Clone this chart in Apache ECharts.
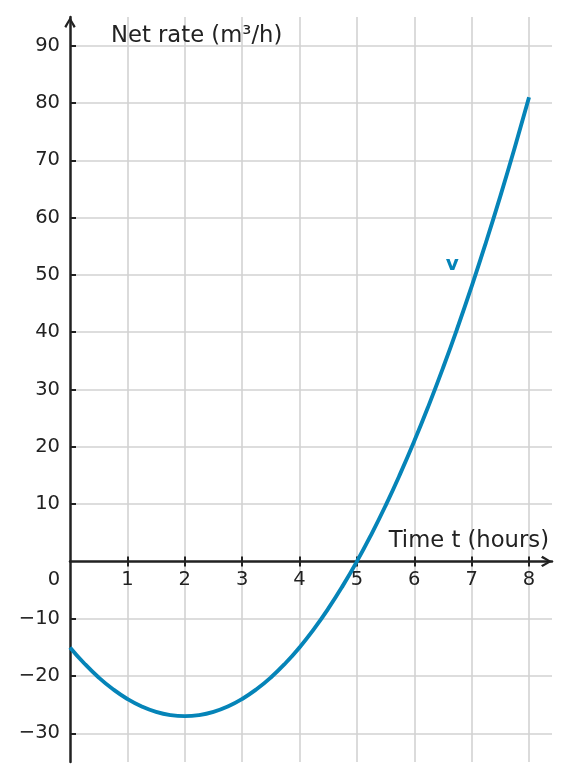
<!DOCTYPE html>
<html><head><meta charset="utf-8">
<script src="https://cdn.jsdelivr.net/npm/echarts@6/dist/echarts.min.js"></script>
<style>html,body{margin:0;padding:0;background:#fff}#c{width:576px;height:780px}</style>
</head><body><div id="c"></div>
<script>
// ---- data ----
const tValues = [0, 0.25, 0.5, 0.75, 1, 1.25, 1.5, 1.75, 2, 2.25, 2.5, 2.75, 3, 3.25, 3.5, 3.75, 4,
                 4.25, 4.5, 4.75, 5, 5.25, 5.5, 5.75, 6, 6.25, 6.5, 6.75, 7, 7.25, 7.5, 7.75, 8];
const vValues = [-15, -17.81, -20.25, -22.31, -24, -25.31, -26.25, -26.81, -27, -26.81, -26.25, -25.31, -24,
                 -22.31, -20.25, -17.81, -15, -11.81, -8.25, -4.31, 0, 4.69, 9.75, 15.19, 21, 27.19, 33.75,
                 40.69, 48, 55.69, 63.75, 72.19, 81];
const xTickLabels = [0, 1, 2, 3, 4, 5, 6, 7, 8];
const yTickLabels = [-30, -20, -10, 10, 20, 30, 40, 50, 60, 70, 80, 90];
const xTitle = 'Time t (hours)';
const yTitle = 'Net rate (m\u00B3/h)';
const seriesName = 'v';
const seriesLabelAt = [6.66, 51.7];

// ---- chart ----
const INK = '#222222';
const BLUE = '#0584b8';
const GRIDC = '#d2d2d2';
const FONT = 'DejaVu Sans';
const chevron = 'path://M0,10 L6,0 L12,10 L10,11.6 L6,4.2 L2,11.6 Z';

const W = 576, H = 780;
const G = {left: 70, right: 24, top: 17, bottom: 18};
const X_MIN = 0, X_MAX = 8.4, Y_MIN = -35, Y_MAX = 95;
const gridH = H - G.top - G.bottom;
const zeroFromTop = gridH * Y_MAX / (Y_MAX - Y_MIN);      // y = 0 position inside grid
const zeroFromBottom = gridH - zeroFromTop;

const points = tValues.map((t, i) => [t, vValues[i]]);
const xTickPos = xTickLabels.filter(v => v !== 0);

const chart = echarts.init(document.getElementById('c'), null, {renderer: 'canvas'});
chart.setOption({
  animation: false,
  backgroundColor: '#ffffff',
  title: [
    {text: yTitle, left: 111, top: 25, padding: 0,
     textStyle: {fontFamily: FONT, fontSize: 22.7, fontWeight: 'normal', color: INK}},
    {text: xTitle, right: 27, top: 530, padding: 0,
     textStyle: {fontFamily: FONT, fontSize: 22.7, fontWeight: 'normal', color: INK}}
  ],
  grid: {left: G.left, right: G.right, top: G.top, bottom: G.bottom, containLabel: false, outerBoundsMode: 'none'},
  xAxis: [{
    type: 'value', min: X_MIN, max: X_MAX, interval: 1, position: 'bottom', offset: -zeroFromBottom,
    axisLine: {show: true, onZero: false, lineStyle: {color: INK, width: 2.5},
      symbol: ['none', chevron], symbolSize: [14, 11], symbolOffset: [0, -5.5]},
    axisTick: {show: true, length: 5, customValues: xTickPos, lineStyle: {color: INK, width: 2}},
    axisLabel: {show: true, customValues: xTickLabels, margin: 9, fontFamily: FONT, fontSize: 19.5, color: INK,
      formatter: v => v === 0 ? '{z|0}' : String(v),
      rich: {z: {fontFamily: FONT, fontSize: 19.5, color: INK, padding: [0, 32, 0, 0]}}},
    splitLine: {show: true, showMinLine: true, showMaxLine: true, lineStyle: {color: GRIDC, width: 1.6}}
  }, {
    type: 'value', min: X_MIN, max: X_MAX, interval: 1, position: 'top', offset: -zeroFromTop,
    axisLine: {show: false, onZero: false},
    axisTick: {show: true, length: 5, customValues: xTickPos, lineStyle: {color: INK, width: 2}},
    axisLabel: {show: false},
    splitLine: {show: false}
  }],
  yAxis: [{
    type: 'value', min: Y_MIN, max: Y_MAX, splitNumber: 13, position: 'left',
    axisLine: {show: true, onZero: false, lineStyle: {color: INK, width: 2.5},
      symbol: ['none', chevron], symbolSize: [14, 11], symbolOffset: [0, -5.5]},
    axisTick: {show: true, inside: true, length: 6, customValues: yTickLabels, lineStyle: {color: INK, width: 2}},
    axisLabel: {show: true, customValues: yTickLabels, margin: 10, fontFamily: FONT, fontSize: 19.5, color: INK,
      formatter: v => v < 0 ? '\u2212' + Math.abs(v) : String(v)},
    splitLine: {show: true, showMinLine: true, showMaxLine: true, lineStyle: {color: GRIDC, width: 1.6}}
  }],
  series: [{
    name: seriesName, type: 'line', xAxisIndex: 0, yAxisIndex: 0,
    data: points, smooth: true, showSymbol: false, z: 5,
    lineStyle: {color: BLUE, width: 3.9}, itemStyle: {color: BLUE},
    markPoint: {
      symbol: 'circle', symbolSize: 1, itemStyle: {color: 'rgba(0,0,0,0)'},
      label: {show: true, position: 'inside', formatter: seriesName, fontFamily: FONT, fontWeight: 'bold', fontSize: 20, color: BLUE},
      data: [{coord: seriesLabelAt}]
    }
  }]
});
</script>
</body></html>
